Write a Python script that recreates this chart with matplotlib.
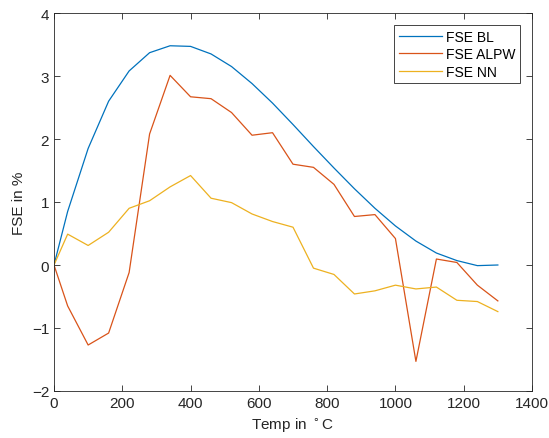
import matplotlib
matplotlib.use("Agg")
import matplotlib.pyplot as plt

temp = [0, 40, 100, 160, 220, 280, 340, 400, 460, 520, 580, 640, 700, 760, 820,
        880, 940, 1000, 1060, 1120, 1180, 1240, 1300]
fse_bl = [0, 0.85, 1.85, 2.6, 3.08, 3.37, 3.48, 3.47, 3.35, 3.15, 2.88, 2.57, 2.23,
          1.88, 1.54, 1.21, 0.9, 0.62, 0.38, 0.19, 0.07, -0.01, 0.0]
fse_alpw = [0, -0.65, -1.27, -1.08, -0.12, 2.08, 3.01, 2.67, 2.64, 2.42, 2.06, 2.1,
            1.6, 1.55, 1.28, 0.77, 0.8, 0.42, -1.53, 0.095, 0.04, -0.32, -0.57]
fse_nn = [0, 0.49, 0.31, 0.52, 0.9, 1.02, 1.24, 1.42, 1.06, 0.99, 0.81, 0.69, 0.6,
          -0.05, -0.15, -0.46, -0.41, -0.32, -0.38, -0.35, -0.56, -0.58, -0.74]
labels = ["FSE BL", "FSE ALPW", "FSE NN"]
colors = ["#0072BD", "#D95319", "#EDB120"]

plt.rcParams['font.family'] = ['Liberation Sans', 'DejaVu Sans']
fig = plt.figure(figsize=(5.49, 4.39), dpi=100)
ax = fig.add_axes([54/549, 1-392/439, (532-54)/549, (392-14)/439])

for y, lab, c in zip([fse_bl, fse_alpw, fse_nn], labels, colors):
    ax.plot(temp, y, color=c, lw=0.9, label=lab)

ax.set_xlim(0, 1400)
ax.set_ylim(-2, 4)
ax.set_xticks(range(0, 1401, 200))
ax.set_yticks(range(-2, 5))
ax.tick_params(direction='in', top=True, right=True, labelsize=11,
               colors='#262626', length=4, width=0.6)
for s in ax.spines.values():
    s.set_color('#262626')
    s.set_linewidth(0.6)
ax.set_xlabel('Temp in $^\\circ$C', fontsize=11, color='#262626')
ax.set_ylabel('FSE in %', fontsize=11, color='#262626')
leg = ax.legend(loc='upper right', fontsize=10, fancybox=False, framealpha=1,
                edgecolor='#262626', borderaxespad=0.85, handlelength=3.1,
                labelspacing=0.25, borderpad=0.35, handletextpad=0.3)
leg.get_frame().set_linewidth(0.6)
fig.savefig('out.png', dpi=100)
